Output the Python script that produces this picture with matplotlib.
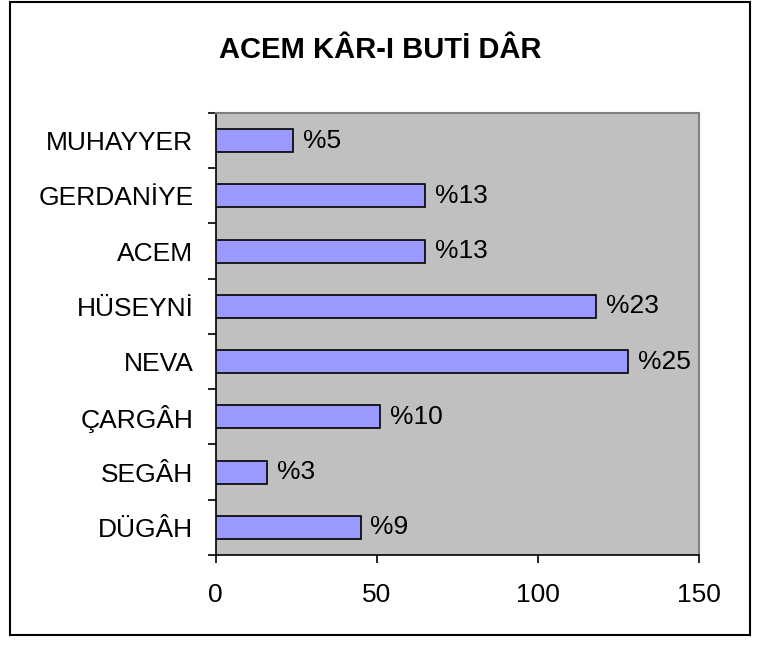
import matplotlib
matplotlib.use("Agg")
import matplotlib.pyplot as plt
from matplotlib.patches import Rectangle
import numpy as np

plt.rcParams["font.family"] = ["Liberation Sans", "DejaVu Sans"]

# ---------------------------------------------------------------------------
# Data (bottom to top, as drawn)
# ---------------------------------------------------------------------------
categories = ["DÜGÂH", "SEGÂH", "ÇARGÂH", "NEVA", "HÜSEYNİ", "ACEM",
              "GERDANİYE", "MUHAYYER"]
values = [45, 16, 51, 128, 118, 65, 65, 24]
pct_labels = ["%9", "%3", "%10", "%25", "%23", "%13", "%13", "%5"]
x_ticks = [0, 50, 100, 150]

BAR_COLOR = "#9999FF"
PLOT_BG = "#C0C0C0"
FS = 19

fig = plt.figure(figsize=(7.6, 6.46), dpi=100)
ax = fig.add_axes([0.2838, 0.1409, 0.9197 - 0.2838, 0.8251 - 0.1409])
ax.set_facecolor(PLOT_BG)

y = np.arange(len(categories))
ax.barh(y, values, height=0.42, color=BAR_COLOR, edgecolor="black",
        linewidth=1.2, zorder=3)

for yi, v, lab in zip(y, values, pct_labels):
    ax.annotate(lab, (v, yi), xytext=(7, 0), textcoords="offset points",
                va="center", ha="left", fontsize=FS)

ax.set_xlim(0, 150)
ax.set_ylim(-0.5, len(categories) - 0.5)
ax.set_xticks(x_ticks)
ax.set_xticklabels([str(t) for t in x_ticks], fontsize=FS)
ax.set_yticks(y)
ax.set_yticklabels(categories, fontsize=FS)
# ticks sit between categories, Excel style
ax.set_yticks(np.arange(-0.5, len(categories), 1), minor=True)
ax.tick_params(axis="y", which="major", length=0, pad=16)
ax.tick_params(axis="y", which="minor", length=6, width=1.2, direction="out")
ax.tick_params(axis="x", length=6, width=1.2, direction="out", pad=14)

for side in ("left", "bottom"):
    ax.spines[side].set_color("black")
    ax.spines[side].set_linewidth(1.2)
for side in ("top", "right"):
    ax.spines[side].set_color("#808080")
    ax.spines[side].set_linewidth(1.5)

fig.text(0.5, 0.922, "ACEM KÂR-I BUTİ DÂR", ha="center", va="center",
         fontsize=21, fontweight="bold")

# outer chart border
fig.patches.append(Rectangle((10 / 760, 11 / 646), 740 / 760, 633 / 646,
                             transform=fig.transFigure, fill=False,
                             edgecolor="black", linewidth=1.5))

fig.savefig("out.png", dpi=100)
